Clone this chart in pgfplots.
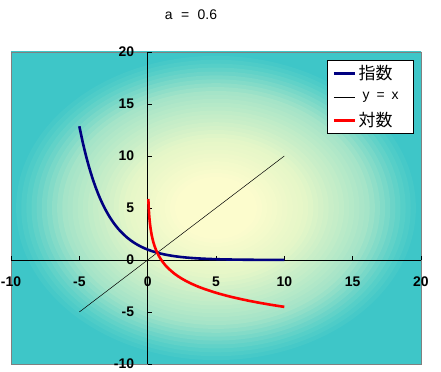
\documentclass[border=0pt]{standalone}
\usepackage{pgfplots}
\pgfplotsset{compat=1.18}
\usepackage{fontspec}
\setmainfont{Liberation Sans}
\newfontfamily\jp{Noto Sans CJK JP}
\definecolor{cY}{RGB}{252,252,205}
\definecolor{cA}{RGB}{228,246,200}
\definecolor{cM}{RGB}{165,228,200}
\definecolor{cB}{RGB}{88,207,200}
\definecolor{cT}{RGB}{62,198,200}
\definecolor{navyline}{RGB}{0,0,128}
\pgfplotstableread{
x y
-5 12.860
-4.75 11.318
-4.5 9.961
-4.25 8.767
-4 7.716
-3.75 6.791
-3.5 5.977
-3.25 5.260
-3 4.630
-2.75 4.075
-2.5 3.586
-2.25 3.156
-2 2.778
-1.5 2.152
-1 1.667
-0.5 1.291
0 1.000
0.5 0.7746
1 0.600
1.5 0.4648
2 0.360
2.5 0.2789
3 0.216
3.5 0.1673
4 0.1296
4.5 0.1004
5 0.0778
5.5 0.0602
6 0.0467
6.5 0.0361
7 0.0280
7.5 0.0217
8 0.0168
8.5 0.0130
9 0.0101
9.5 0.0078
10 0.0060
}\expdata
\pgfplotstableread{
x y
0.05 5.865
0.07 5.206
0.1 4.508
0.15 3.714
0.2 3.151
0.3 2.357
0.4 1.794
0.5 1.357
0.6 1.000
0.7 0.698
0.8 0.437
1 0.000
1.25 -0.437
1.5 -0.794
2 -1.357
2.5 -1.794
3 -2.151
3.5 -2.452
4 -2.714
5 -3.151
6 -3.508
7 -3.809
8 -4.071
9 -4.301
10 -4.508
}\logdata
\begin{document}
\begin{tikzpicture}
\useasboundingbox (0,0) rectangle (441bp,372bp);
\begin{scope}
\clip (11bp,8bp) rectangle (421bp,320bp);
\foreach \f/\c in {1.5/cT,1.0/cT,0.975/cT!69!cB,0.95/cT!37!cB,0.925/cT!6!cB,
  0.9/cB!88!cM,0.875/cB!74!cM,0.85/cB!59!cM,0.825/cB!44!cM,0.8/cB!29!cM,0.775/cB!15!cM,0.75/cM,
  0.725/cM!92!cA,0.7/cM!83!cA,0.675/cM!75!cA,0.65/cM!67!cA,0.625/cM!58!cA,0.6/cM!50!cA,0.575/cM!42!cA,0.55/cM!33!cA,
  0.525/cM!25!cA,0.5/cM!17!cA,0.475/cM!8!cA,0.45/cA,0.425/cA!90!cY,0.4/cA!80!cY,0.375/cA!70!cY,0.35/cA!60!cY,
  0.325/cA!50!cY,0.3/cA!40!cY,0.275/cA!30!cY,0.25/cA!20!cY,0.225/cA!10!cY,0.2/cY}
  {\fill[\c] (216bp,164bp) ellipse ({205bp*\f} and {156bp*\f});}
\end{scope}
\node[font=\fontsize{14}{16}\selectfont] at (191bp,357bp) {a\hspace{8.5bp}=\hspace{8.5bp}0.6};
\begin{axis}[
  at={(11bp,8bp)}, anchor=south west,
  scale only axis, width=410bp, height=312bp,
  xmin=-10, xmax=20, ymin=-10, ymax=20,
  axis lines=middle,
  axis line style={black, line width=0.8bp, -},
  axis background/.style={draw=gray, line width=0.8bp},
  xtick={-10,-5,...,20}, ytick={-10,-5,...,20},
  hide obscured x ticks=false, hide obscured y ticks=false,
  tick align=inside, major tick length=4bp,
  tick style={black, line width=0.8bp},
  every tick label/.append style={font=\fontsize{14}{16}\selectfont\bfseries},
  /pgf/number format/assume math mode=true,
  xticklabel style={yshift=-13bp},
  yticklabel style={xshift=-10bp},
  legend style={at={(0.771,0.974)}, anchor=north west, draw=black, fill=white,
    line width=0.8bp, inner xsep=5bp, inner ysep=1bp, row sep=0bp, column sep=0bp,
    nodes={minimum height=23.5bp, inner ysep=0bp, inner xsep=2.5bp},
    font=\fontsize{17}{19}\selectfont},
  legend cell align=left,
  legend image code/.code={\draw[#1] (0bp,0bp) -- (21bp,0bp);},
  clip=false,
]
\addplot[navyline, line width=2.6bp, smooth] table {\expdata};
\addlegendentry{\makebox[47bp][l]{\jp 指数}}
\addplot[black, line width=0.5bp] coordinates {(-5,-5) (10,10)};
\addlegendentry{\makebox[47bp][l]{\fontsize{14}{16}\selectfont\hspace{4bp}y\hspace{7bp}=\hspace{7bp}x}}
\addplot[red, line width=2.6bp, smooth] table {\logdata};
\addlegendentry{\makebox[47bp][l]{\jp 対数}}
\end{axis}
\end{tikzpicture}
\end{document}
